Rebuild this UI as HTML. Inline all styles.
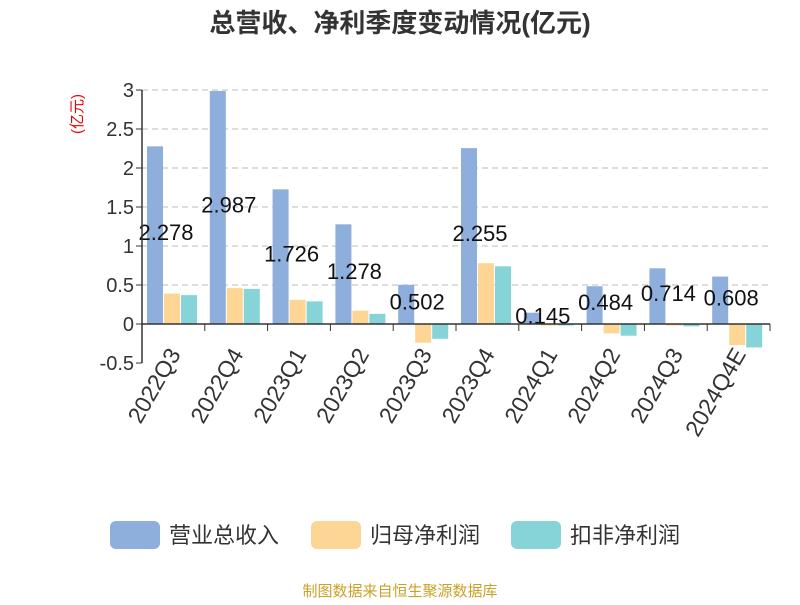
<!DOCTYPE html>
<html><head><meta charset="utf-8"><style>
body{margin:0;background:#fff;font-family:"Liberation Sans","Noto Sans CJK SC",sans-serif}
</style></head><body>
<svg width="800" height="600" id="c" style="font-family:'Liberation Sans','Noto Sans CJK SC',sans-serif">
<text x="400" y="32" text-anchor="middle" font-size="26" font-weight="bold" fill="#333">总营收、净利季度变动情况(亿元)</text>
<text transform="translate(82,114) rotate(-90)" text-anchor="middle" font-size="15" fill="#e00">(亿元)</text>
<g id="grid"></g><g id="bars"></g><g id="axes"></g>
<g font-size="22" fill="#333">
<rect x="110" y="521" width="50" height="28" rx="6" fill="#8eaedb"/>
<text x="169" y="543">营业总收入</text>
<rect x="311" y="521" width="50" height="28" rx="6" fill="#fdd595"/>
<text x="370" y="543">归母净利润</text>
<rect x="511" y="521" width="50" height="28" rx="6" fill="#86d4d8"/>
<text x="570" y="543">扣非净利润</text>
</g>
<text x="400" y="596" text-anchor="middle" font-size="15" fill="#c9a227">制图数据来自恒生聚源数据库</text>
</svg>
<script>
const categories=["2022Q3","2022Q4","2023Q1","2023Q2","2023Q3","2023Q4","2024Q1","2024Q2","2024Q3","2024Q4E"];
const revenue=[2.278,2.987,1.726,1.278,0.502,2.255,0.145,0.484,0.714,0.608];
const netProfit=[0.39,0.46,0.31,0.17,-0.24,0.78,-0.02,-0.12,-0.02,-0.27];
const deductedProfit=[0.37,0.45,0.29,0.13,-0.19,0.74,-0.02,-0.15,-0.03,-0.30];
const yTicks=[-0.5,0,0.5,1,1.5,2,2.5,3];
const NS="http://www.w3.org/2000/svg";
const x0=142,x1=770,y0v=324,ppu=78;
const bw=(x1-x0)/categories.length;
const y=v=>y0v-v*ppu;
const xc=i=>x0+i*bw;
function mk(tag,attrs,parent,txt){const e=document.createElementNS(NS,tag);for(const k in attrs)e.setAttribute(k,attrs[k]);if(txt!==undefined)e.textContent=txt;document.getElementById(parent).appendChild(e);return e;}
yTicks.forEach(t=>{
 if(t!==0&&t!==-0.5){const l=mk('line',{x1:x0,x2:x1,y1:y(t),y2:y(t),stroke:'#bbb','stroke-dasharray':'6,4'},'grid');
 
 }
 const tl=mk('text',{x:134,y:y(t)+7,'text-anchor':'end','font-size':20,fill:'#333'},'axes',String(t));
 
 
 mk('line',{x1:x0-6,x2:x0,y1:y(t),y2:y(t),stroke:'#333'},'axes');
});
const ya=mk('line',{x1:x0,x2:x0,y1:y(3),y2:y(-0.5),stroke:'#333','stroke-width':1.5},'axes');


const xa=mk('line',{x1:x0,x2:x1,y1:y0v,y2:y0v,stroke:'#333','stroke-width':1.5},'axes');


const series=[[revenue,'#8eaedb','revenue'],[netProfit,'#fdd595','net-profit'],[deductedProfit,'#86d4d8','deducted-profit']];
categories.forEach((c,i)=>{
 mk('line',{x1:xc(i+1),x2:xc(i+1),y1:y0v,y2:y0v+7,stroke:'#333'},'axes');
 series.forEach((s,j)=>{
  const v=s[0][i];
  const r=mk('rect',{x:xc(i)+5+j*17,width:16,y:Math.min(y(v),y0v),height:Math.abs(v)*ppu,fill:s[1]},'bars');
  
  
 });
 const lb=mk('text',{x:xc(i)+24,y:y(revenue[i]/2)+5,'text-anchor':'middle','font-size':22,fill:'#111'},'bars',revenue[i].toFixed(3));
 
 
 const cx=xc(i)+bw/2+8;
 const cy=y0v+30;
 const xl=mk('text',{x:cx,y:cy,'text-anchor':'end','font-size':23,fill:'#333',transform:`rotate(-60 ${cx} ${cy})`},'axes',c);
 
 
});
</script>
</body></html>
